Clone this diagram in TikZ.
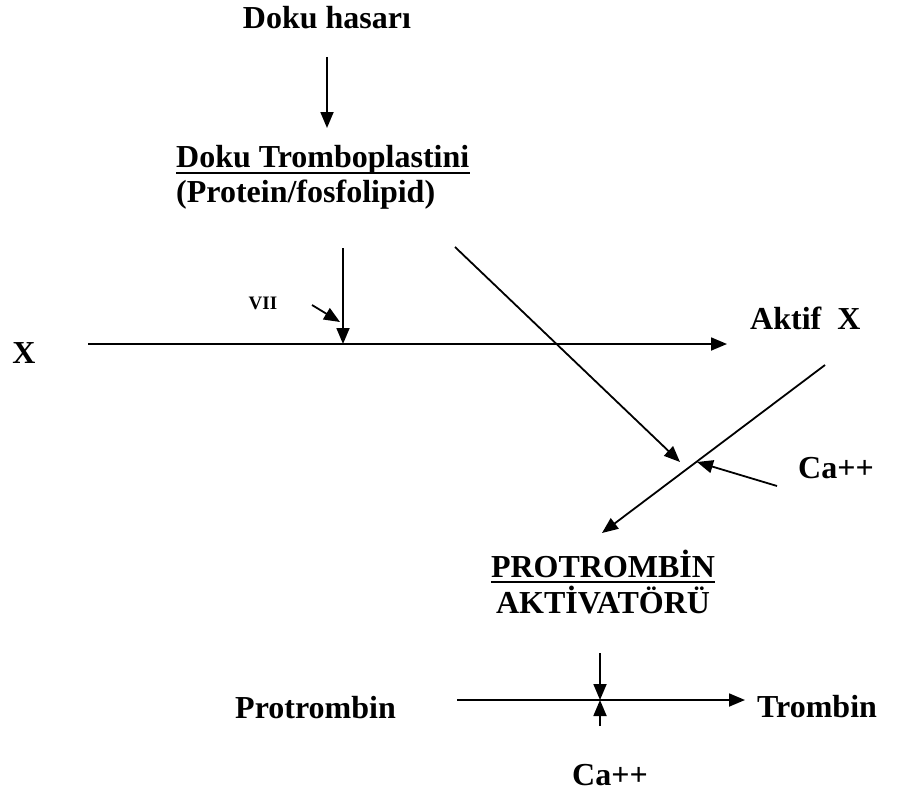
\documentclass[tikz,border=0pt]{standalone}
\usepackage{fontspec}
\setmainfont{Liberation Serif}
\usetikzlibrary{arrows.meta}
\begin{document}
\begin{tikzpicture}[x=1bp,y=-1bp,
    lbl/.style={font=\fontsize{32bp}{36bp}\selectfont\bfseries, inner sep=0pt},
    small/.style={font=\fontsize{19bp}{22bp}\selectfont\bfseries, inner sep=0pt},
    ln/.style={line width=1.8bp},
    arr/.style={ln, -{Triangle[length=16bp,width=13bp]}},
    uline/.style={line width=2bp}]
    \useasboundingbox (0,0) rectangle (903,795);
    % labels
    \node [lbl, anchor=base] (hasar) at (327,29) {Doku hasarı};
    \node [lbl, anchor=base west] (tromb) at (176,167) {Doku Tromboplastini};
    \node [lbl, anchor=base west] (protein) at (176,202) {(Protein/fosfolipid)};
    \node [small, anchor=base] (seven) at (263,309) {VII};
    \node [lbl, anchor=base] (x) at (24,363) {X};
    \node [lbl, anchor=base west] (aktifx) at (750,329) {Aktif\enspace X};
    \node [lbl, anchor=base west] (ca) at (798,478) {Ca++};
    \node [lbl, anchor=base] (pact) at (603,577) {PROTROMBİN};
    \node [lbl, anchor=base] (aktiv) at (603,613) {AKTİVATÖRÜ};
    \node [lbl, anchor=base west] (protr) at (235,718) {Protrombin};
    \node [lbl, anchor=base west] (tr) at (757,717) {Trombin};
    \node [lbl, anchor=base] (cab) at (610,785) {Ca++};
    % underlines
    \draw [uline] ([yshift=-6bp]tromb.base west) -- ([yshift=-6bp]tromb.base east);
    \draw [uline] ([yshift=-5bp]pact.base west) -- ([yshift=-5bp]pact.base east);
    % points on the lines
    \coordinate (h1) at (327,57);
    \coordinate (h2) at (327,128);
    \coordinate (vtop) at (343,248);
    \coordinate (xmid) at (343,344);
    \coordinate (xs) at (88,344);
    \coordinate (xe) at (727,344);
    \coordinate (vs) at (312,305);
    \coordinate (ve) at (340,322);
    \coordinate (d1s) at (455,247);
    \coordinate (d1e) at (680,462);
    \coordinate (d2s) at (825,365);
    \coordinate (d2e) at (602,533);
    \coordinate (cas) at (777,486);
    \coordinate (cae) at (697,462);
    \coordinate (ps) at (457,700);
    \coordinate (pe) at (745,700);
    \coordinate (dtop) at (600,653);
    \coordinate (dtip) at (600,700);
    \coordinate (ubot) at (600,726);
    % arrows
    \draw [arr] (h1) -- (h2);
    \draw [arr] (vtop) -- (xmid);
    \draw [arr] (xs) -- (xe);
    \draw [arr] (vs) -- (ve);
    \draw [arr] (d1s) -- (d1e);
    \draw [arr] (d2s) -- (d2e);
    \draw [arr] (cas) -- (cae);
    \draw [arr] (ps) -- (pe);
    \draw [arr] (dtop) -- (dtip);
    \draw [arr] (ubot) -- (dtip);
\end{tikzpicture}
\end{document}
